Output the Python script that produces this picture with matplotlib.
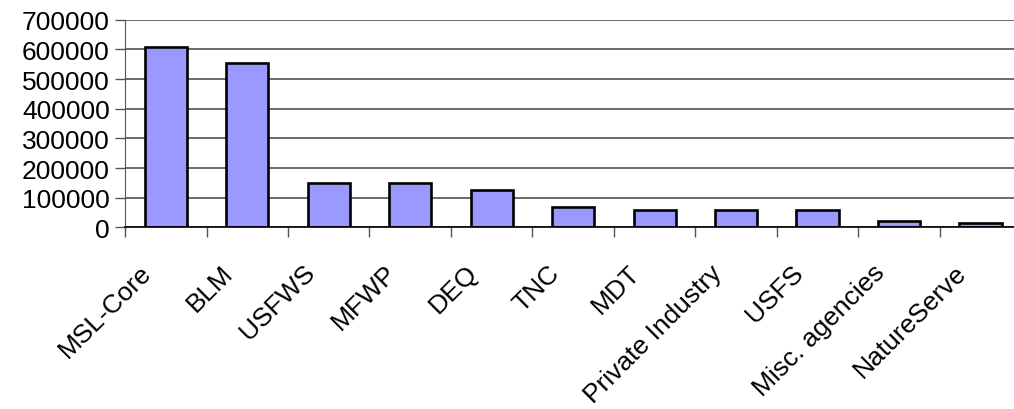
import numpy as np
import matplotlib.pyplot as plt
from matplotlib.transforms import ScaledTranslation

plt.rcParams["font.family"] = ["Liberation Sans", "DejaVu Sans"]
plt.rcParams["font.size"] = 19

agencies = [
    "MSL-Core", "BLM", "USFWS", "MFWP", "DEQ", "TNC", "MDT",
    "Private Industry", "USFS", "Misc. agencies", "NatureServe",
]
funding = [608000, 555000, 150000, 150000, 126000, 70000, 59000,
           58000, 58000, 22000, 14000]
y_ticks = [0, 100000, 200000, 300000, 400000, 500000, 600000, 700000]

fig = plt.figure(figsize=(10.14, 4.10), dpi=100)
ax = fig.add_axes([0.1233, 0.443, 0.884, 0.5065])

x = np.arange(len(agencies))
ax.bar(x, funding, width=0.52, color="#9999FF", edgecolor="black",
       linewidth=1.9, zorder=3)

ax.set_ylim(0, 700000)
ax.set_yticks(y_ticks)
ax.set_yticklabels([str(v) for v in y_ticks])
ax.yaxis.grid(True, color="#444444", linewidth=1.1, zorder=0)

ax.set_xlim(-0.5, len(agencies) - 0.5)
ax.set_xticks(x)
ax.set_xticklabels([])
ax.set_xticks(np.arange(len(agencies) + 1) - 0.5, minor=True)
ax.tick_params(axis="x", which="major", length=0)
ax.tick_params(axis="x", which="minor", length=7, width=1, color="#555555",
               direction="out")
ax.tick_params(axis="y", length=7, width=1, color="#555555", direction="out",
               pad=4)

# category labels sit a bit left of the bar centre, like the original chart
offset = ScaledTranslation(-0.18, -0.41, fig.dpi_scale_trans)
for i, name in enumerate(agencies):
    ax.text(i, 0, name, transform=ax.get_xaxis_transform() + offset,
            rotation=45, ha="right", va="center", rotation_mode="anchor",
            fontsize=19)

for side in ["top", "right"]:
    ax.spines[side].set_visible(False)
ax.spines["left"].set_color("#555555")
ax.spines["bottom"].set_color("black")
ax.spines["bottom"].set_linewidth(1.2)
ax.spines["bottom"].set_zorder(4)

fig.savefig("out.png", dpi=100)
